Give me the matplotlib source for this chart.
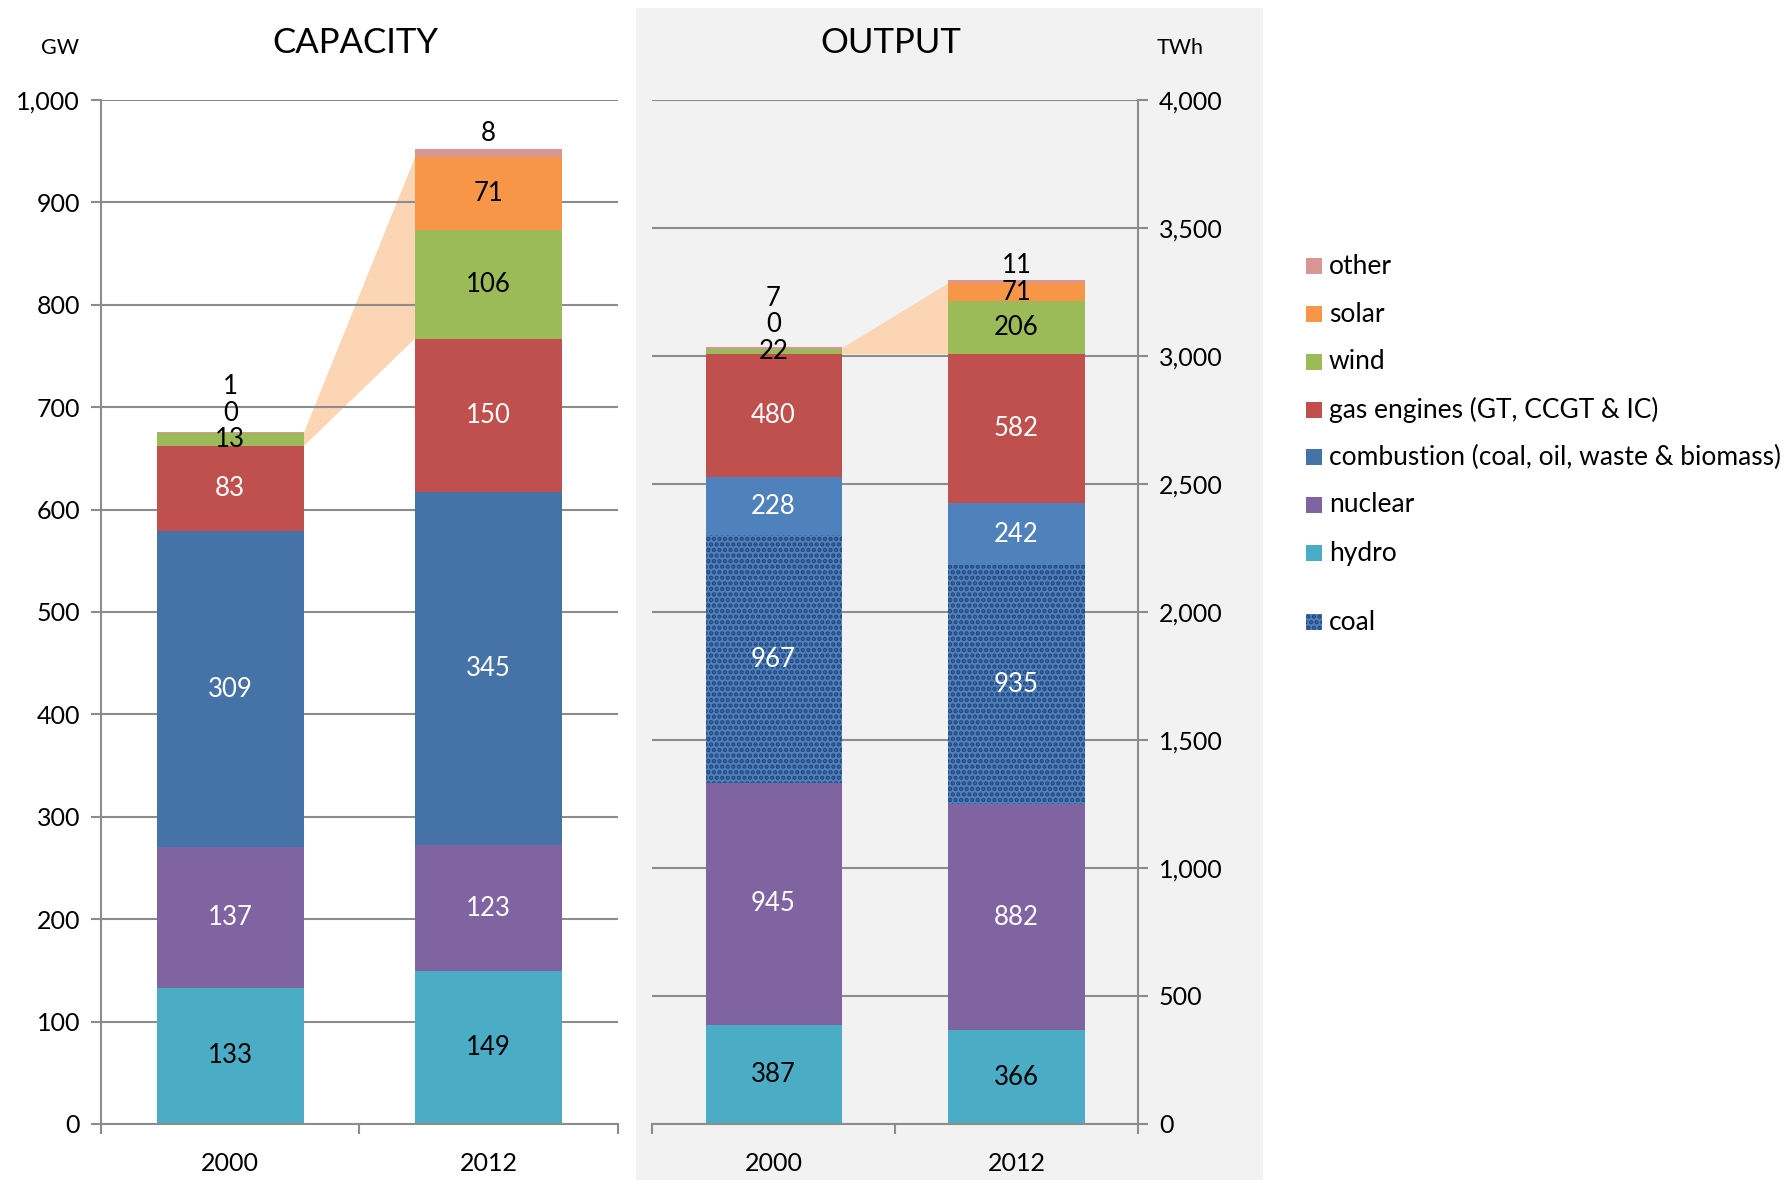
import matplotlib.pyplot as plt
import matplotlib.patches as mpatches
from matplotlib.ticker import FuncFormatter, FixedLocator
import numpy as np

plt.rcParams['font.family'] = ['Lato', 'DejaVu Sans']
plt.rcParams['hatch.linewidth'] = 2.2

years = ['2000', '2012']

# capacity (GW)
cap_hydro = [133, 149]
cap_nuclear = [137, 123]
cap_combustion = [309, 345]
cap_gas = [83, 150]
cap_wind = [13, 106]
cap_solar = [0, 71]
cap_other = [1, 8]

# output (TWh)
out_hydro = [387, 366]
out_nuclear = [945, 882]
out_coal = [967, 935]
out_combustion = [228, 242]
out_gas = [480, 582]
out_wind = [22, 206]
out_solar = [0, 71]
out_other = [7, 11]

c_hydro = '#4BACC6'
c_nuclear = '#8064A2'
c_comb_cap = '#4572A7'
c_comb_out = '#4F81BD'
c_gas = '#C0504D'
c_wind = '#9BBB59'
c_solar = '#F79646'
c_other = '#D99694'
c_wedge = '#FCD5B5'
grid_c = '#8C8C8C'

fig = plt.figure(figsize=(17.84, 11.80), dpi=100)
fig.patches.append(mpatches.Rectangle((0.3565, 0), 0.3515, 0.9932, transform=fig.transFigure,
                                      facecolor='#F2F2F2', edgecolor='none', zorder=-10))

ax1 = fig.add_axes([0.0566, 0.0475, 0.2898, 0.8678])
ax2 = fig.add_axes([0.3655, 0.0475, 0.2724, 0.8678])
ax2.patch.set_alpha(0)

x = np.arange(len(years))


def stack(ax, series, width):
    bottom = np.zeros(len(years))
    bounds = []
    for vals, col, hatch, tcol in series:
        vals = np.array(vals, dtype=float)
        kw = dict(color=col, linewidth=0, zorder=2)
        if hatch:
            kw.update(hatch=hatch, edgecolor='#23457A')
        ax.bar(x, vals, width, bottom=bottom, **kw)
        bounds.append((bottom.copy(), vals.copy(), tcol))
        bottom += vals
    return bounds, bottom


def style(ax, ymax, step, right=False):
    ax.set_xlim(-0.5, 1.5)
    ax.set_ylim(0, ymax)
    ax.set_axisbelow(True)
    ax.grid(axis='y', color=grid_c, linewidth=1.5, zorder=0.5)
    ax.set_xticks(x)
    ax.set_xticklabels(years, fontsize=18)
    ax.xaxis.set_minor_locator(FixedLocator([-0.5, 0.5, 1.5]))
    ax.tick_params(axis='x', which='major', length=0, pad=20)
    ax.tick_params(axis='x', which='minor', length=7, color=grid_c, width=1.5)
    ax.set_yticks(np.arange(0, ymax + 1, step))
    ax.yaxis.set_major_formatter(FuncFormatter(lambda v, p: f'{int(v):,}'))
    ax.tick_params(axis='y', length=7, color=grid_c, width=1.5, labelsize=18, pad=8)
    ax.spines['top'].set_visible(False)
    for s in ['bottom', 'left', 'right']:
        ax.spines[s].set_color(grid_c)
        ax.spines[s].set_linewidth(1.5)
    if right:
        ax.spines['left'].set_visible(False)
        ax.yaxis.tick_right()
    else:
        ax.spines['right'].set_visible(False)


def label(ax, bounds, tops):
    n = len(bounds)
    for i in range(len(years)):
        for k, (bot, vals, tcol) in enumerate(bounds):
            v = vals[i]
            cy = bot[i] + v / 2
            if k >= n - 3 and i == 0:
                # small renewables on first bar: stacked labels
                wb, wv, _ = bounds[n - 3]
                base = wb[i] + wv[i] / 2
                off = [0, 19, 38][k - (n - 3)]
                ax.annotate(f'{int(v)}', (x[i], base), xytext=(0, off), textcoords='offset points',
                            ha='center', va='center', fontsize=18.5, color='black', zorder=5)
            elif k == n - 1:
                ax.annotate(f'{int(v)}', (x[i], tops[i]), xytext=(0, 11), textcoords='offset points',
                            ha='center', va='center', fontsize=18.5, color='black', zorder=5)
            else:
                ax.text(x[i], cy, f'{int(v)}', ha='center', va='center', fontsize=18.5,
                        color=tcol, zorder=5)


def wedge(ax, bounds, width, gas_idx, solar_idx):
    xr = x[0] + width / 2
    xl = x[1] - width / 2
    gb, gv, _ = bounds[gas_idx]
    sb, sv, _ = bounds[solar_idx]
    pts = [(xr, gb[0] + gv[0]), (xr, sb[0] + sv[0]), (xl, sb[1] + sv[1]), (xl, gb[1] + gv[1])]
    ax.add_patch(mpatches.Polygon(pts, closed=True, facecolor=c_wedge, edgecolor='none', zorder=0.3))


# capacity
w1 = 0.57
cap_series = [
    (cap_hydro, c_hydro, None, 'black'),
    (cap_nuclear, c_nuclear, None, 'white'),
    (cap_combustion, c_comb_cap, None, 'white'),
    (cap_gas, c_gas, None, 'white'),
    (cap_wind, c_wind, None, 'black'),
    (cap_solar, c_solar, None, 'black'),
    (cap_other, c_other, None, 'black'),
]
b1, t1 = stack(ax1, cap_series, w1)
style(ax1, 1000, 100)
wedge(ax1, b1, w1, 3, 5)
label(ax1, b1, t1)

# output
w2 = 0.56
out_series = [
    (out_hydro, c_hydro, None, 'black'),
    (out_nuclear, c_nuclear, None, 'white'),
    (out_coal, c_comb_out, '...', 'white'),
    (out_combustion, c_comb_out, None, 'white'),
    (out_gas, c_gas, None, 'white'),
    (out_wind, c_wind, None, 'black'),
    (out_solar, c_solar, None, 'black'),
    (out_other, c_other, None, 'black'),
]
b2, t2 = stack(ax2, out_series, w2)
style(ax2, 4000, 500, right=True)
wedge(ax2, b2, w2, 4, 6)
label(ax2, b2, t2)

# titles and units
fig.text(355 / 1784, 1 - 43 / 1180, 'CAPACITY', ha='center', va='center', fontsize=25)
fig.text(891 / 1784, 1 - 43 / 1180, 'OUTPUT', ha='center', va='center', fontsize=25)
fig.text(60 / 1784, 1 - 48 / 1180, 'GW', ha='center', va='center', fontsize=15.5)
fig.text(1180 / 1784, 1 - 48 / 1180, 'TWh', ha='center', va='center', fontsize=15.5)

# legend
leg_names = ['other', 'solar', 'wind', 'gas engines (GT, CCGT & IC)',
             'combustion (coal, oil, waste & biomass)', 'nuclear', 'hydro', 'coal']
leg_cols = [c_other, c_solar, c_wind, c_gas, c_comb_cap, c_nuclear, c_hydro, c_comb_out]
leg_y = [266, 314, 362, 410, 457, 505, 553, 622]
sq = 16
for name, col, yy in zip(leg_names, leg_cols, leg_y):
    kw = dict(facecolor=col, edgecolor='none', linewidth=0)
    if name == 'coal':
        kw.update(hatch='...', edgecolor='#23457A')
    fig.patches.append(mpatches.Rectangle((1306 / 1784, 1 - (yy + sq / 2) / 1180), sq / 1784, sq / 1180,
                                          transform=fig.transFigure, **kw))
    fig.text(1329 / 1784, 1 - yy / 1180, name, ha='left', va='center', fontsize=19)

fig.savefig('out.png', dpi=100)
